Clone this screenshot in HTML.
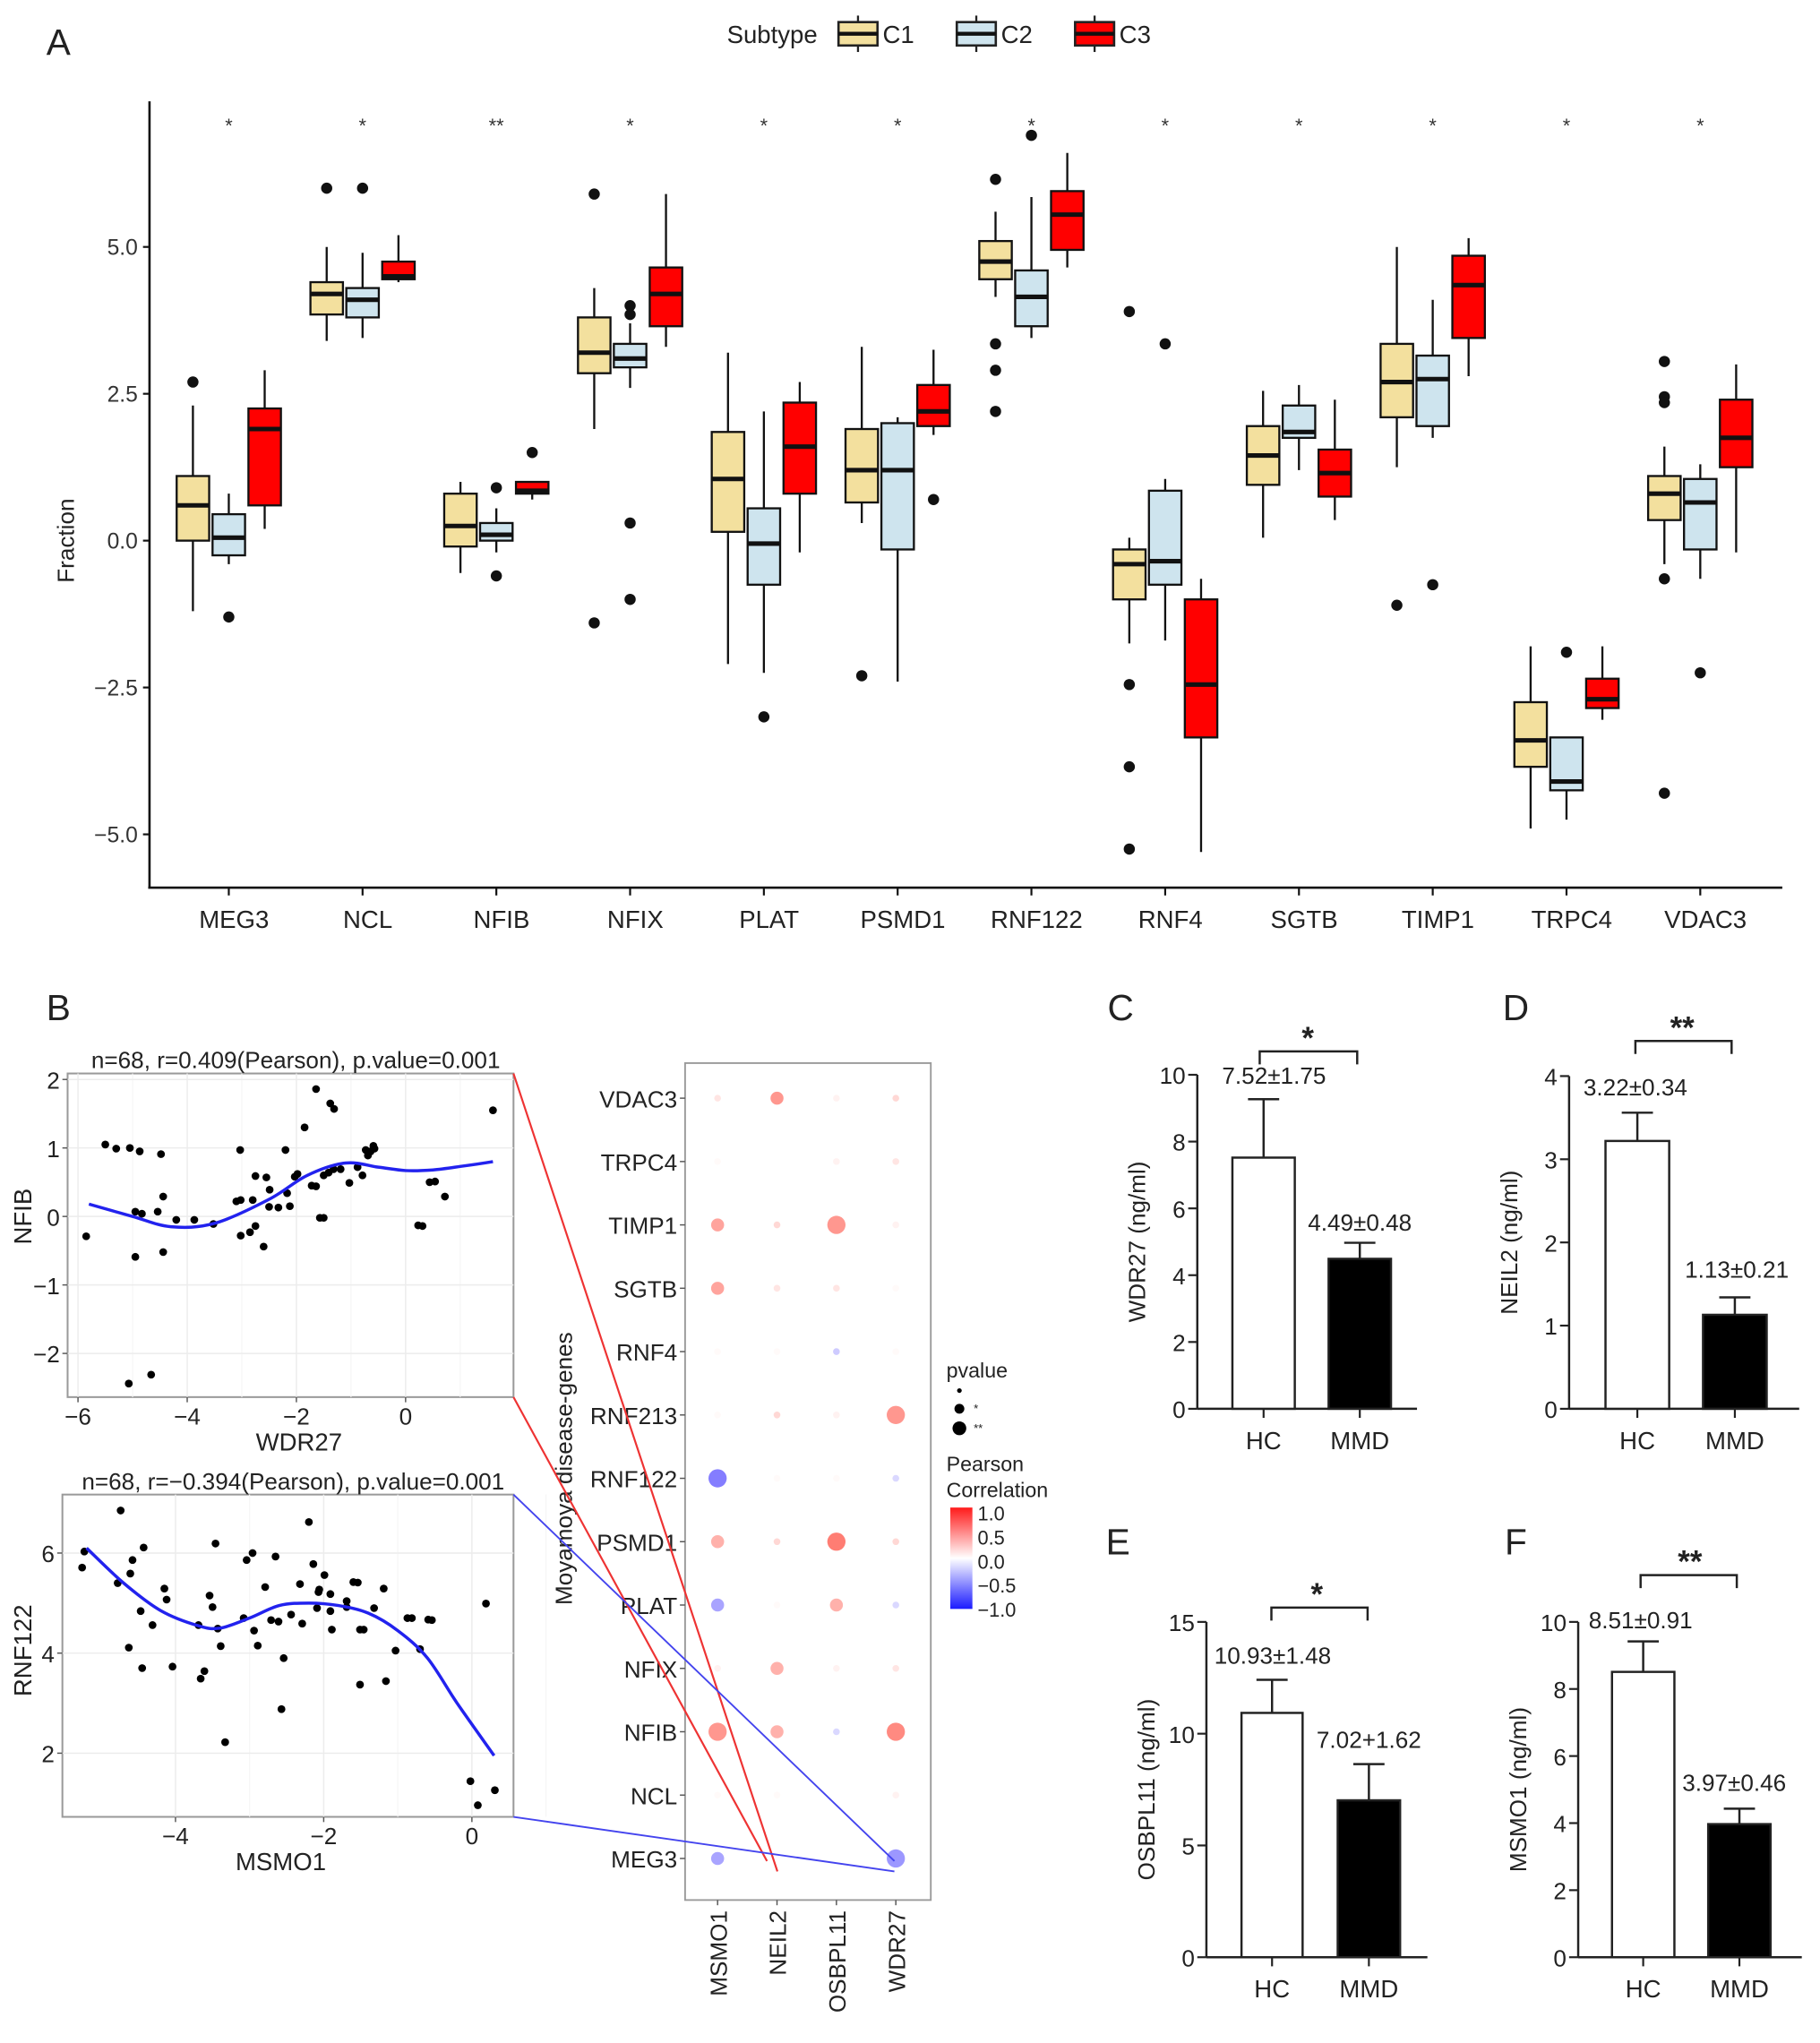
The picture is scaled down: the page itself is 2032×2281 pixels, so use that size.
<!DOCTYPE html>
<html><head><meta charset="utf-8"><style>
html,body{margin:0;padding:0;background:#fff;}
svg{display:block;font-family:"Liberation Sans",Arial,sans-serif;}
</style></head><body>
<svg id="fig" width="2032" height="2281" viewBox="0 0 1400 1572" preserveAspectRatio="none" xmlns="http://www.w3.org/2000/svg"></svg>
<script>
// ===== Panel A data =====
const genes = ["MEG3","NCL","NFIB","NFIX","PLAT","PSMD1","RNF122","RNF4","SGTB","TIMP1","TRPC4","VDAC3"];
const sigA = ["*","*","**","*","*","*","*","*","*","*","*","*"];
// [q1, median, q3, whiskerLow, whiskerHigh]
const boxC1 = [[0,0.6,1.1,-1.2,2.3],[3.85,4.2,4.4,3.4,5.0],[-0.1,0.25,0.8,-0.55,1.0],[2.85,3.2,3.8,1.9,4.3],[0.15,1.05,1.85,-2.1,3.2],[0.65,1.2,1.9,0.3,3.3],[4.45,4.75,5.1,4.15,5.6],[-1.0,-0.4,-0.15,-1.75,0.05],[0.95,1.45,1.95,0.05,2.55],[2.1,2.7,3.35,1.25,5.0],[-3.85,-3.4,-2.75,-4.9,-1.8],[0.35,0.8,1.1,-0.4,1.6]];
const boxC2 = [[-0.25,0.05,0.45,-0.4,0.8],[3.8,4.1,4.3,3.45,4.9],[0,0.1,0.3,-0.2,0.55],[2.95,3.1,3.35,2.6,3.7],[-0.75,-0.05,0.55,-2.25,2.2],[-0.15,1.2,2.0,-2.4,2.1],[3.65,4.15,4.6,3.45,5.85],[-0.75,-0.35,0.85,-1.7,1.05],[1.75,1.85,2.3,1.2,2.65],[1.95,2.75,3.15,1.75,4.1],[-4.25,-4.1,-3.35,-4.75,-3.35],[-0.15,0.65,1.05,-0.65,1.3]];
const boxC3 = [[0.6,1.9,2.25,0.2,2.9],[4.45,4.5,4.75,4.4,5.2],[0.8,0.85,1.0,0.7,1.0],[3.65,4.2,4.65,3.3,5.9],[0.8,1.6,2.35,-0.2,2.7],[1.95,2.2,2.65,1.8,3.25],[4.95,5.55,5.95,4.65,6.6],[-3.35,-2.45,-1.0,-5.3,-0.65],[0.75,1.15,1.55,0.35,2.4],[3.45,4.35,4.85,2.8,5.15],[-2.85,-2.7,-2.35,-3.05,-1.8],[1.25,1.75,2.4,-0.2,3.0]];
const outC1 = [[2.7],[6.0],[],[5.9,-1.4],[],[-2.3],[6.15,3.35,2.9,2.2],[3.9,-2.45,-3.85,-5.25],[],[-1.1],[],[3.05,2.45,2.35,-0.65,-4.3]];
const outC2 = [[-1.3],[6.0],[0.9,-0.6],[4.0,3.85,0.3,-1.0],[-3.0],[],[6.9],[3.35],[],[-0.75],[-1.9],[-2.25]];
const outC3 = [[],[],[1.5],[],[],[0.7],[],[],[],[],[],[]];
const yTicksA = [5.0,2.5,0.0,-2.5,-5.0];
const yTickLabelsA = ["5.0","2.5","0.0","\u22122.5","\u22125.0"];

// ===== Scatter 1 (WDR27 vs NFIB) =====
const s1x = [-5.85,-5.5,-5.3,-5.05,-4.87,-4.95,-4.83,-4.95,-5.07,-4.66,-4.48,-4.44,-4.54,-4.44,-4.2,-3.87,-3.52,-3.03,-3.1,-3.02,-3.02,-2.85,-2.75,-2.8,-2.75,-2.6,-2.55,-2.49,-2.5,-2.33,-2.2,-2.17,-2.12,-2.03,-1.98,-1.85,-1.72,-1.64,-1.64,-1.57,-1.5,-1.5,-1.38,-1.31,-1.32,-1.41,-1.19,-1.03,-0.88,-0.79,-0.73,-0.69,-0.64,-0.59,-0.57,0.23,0.31,0.44,0.54,0.72,1.6];
const s1y = [-0.29,1.05,0.99,1.0,0.95,0.07,0.04,-0.59,-2.44,-2.31,0.91,0.29,0.07,-0.52,-0.05,-0.05,-0.11,0.97,0.22,0.24,-0.28,-0.23,0.59,0.24,-0.14,-0.44,0.57,0.39,0.14,0.13,0.97,0.34,0.15,0.58,0.62,1.3,0.45,1.86,0.44,-0.02,-0.02,0.6,1.65,1.57,0.69,0.64,0.69,0.49,0.72,0.6,0.97,0.89,0.95,1.03,0.99,-0.13,-0.14,0.5,0.51,0.29,1.55];
const fit1x = [-5.8,-5,-4.3,-3.5,-2.5,-1.8,-1.1,-0.5,0,0.5,1,1.6];
const fit1y = [0.18,0,-0.15,-0.1,0.25,0.6,0.78,0.72,0.67,0.68,0.73,0.8];
const s1xTicks = [-6,-4,-2,0];
const s1yTicks = [2,1,0,-1,-2];

// ===== Scatter 2 (MSMO1 vs RNF122) =====
const s2x = [-5.26,-5.23,-4.74,-4.78,-4.61,-4.58,-4.47,-4.43,-4.63,-4.45,-4.31,-4.15,-4.12,-4.04,-3.69,-3.66,-3.61,-3.54,-3.5,-3.46,-3.43,-3.39,-3.33,-3.08,-3.04,-2.96,-2.94,-2.89,-2.79,-2.71,-2.65,-2.61,-2.54,-2.57,-2.44,-2.32,-2.29,-2.2,-2.14,-2.09,-2.07,-2.06,-1.99,-1.91,-1.91,-1.89,-1.69,-1.69,-1.6,-1.54,-1.51,-1.46,-1.51,-1.32,-1.19,-1.16,-1.03,-0.87,-0.81,-0.7,-0.59,-0.54,-0.02,0.08,0.19,0.31];
const s2y = [5.71,6.03,6.85,5.4,5.59,5.86,4.84,6.11,4.11,3.7,4.56,5.29,5.07,3.73,4.56,3.49,3.64,5.15,4.92,6.19,4.49,4.14,2.22,4.7,5.86,6.0,4.45,4.15,5.32,4.66,5.93,4.63,3.9,2.88,4.77,5.38,4.59,6.62,5.78,4.9,5.22,5.27,5.56,5.18,4.84,4.47,5.04,4.92,5.42,5.41,4.47,4.47,3.37,4.9,5.29,3.44,4.05,4.7,4.7,4.08,4.67,4.66,1.44,0.96,4.99,1.26];
const fit2x = [-5.2,-4.7,-4.2,-3.7,-3.4,-3.0,-2.6,-2.2,-1.8,-1.4,-1.0,-0.6,-0.2,0.3];
const fit2y = [6.1,5.4,4.85,4.55,4.5,4.7,4.95,5.0,4.95,4.8,4.45,3.9,3.0,1.95];
const s2xTicks = [-4,-2,0];
const s2yTicks = [6,4,2];

// ===== Correlation dot plot =====
const dotRows = ["VDAC3","TRPC4","TIMP1","SGTB","RNF4","RNF213","RNF122","PSMD1","PLAT","NFIX","NFIB","NCL","MEG3"];
const dotCols = ["MSMO1","NEIL2","OSBPL11","WDR27"];
const corr = [[0.1,0.4,0.05,0.15],[0.02,0,0.05,0.1],[0.35,0.15,0.4,0.05],[0.35,0.1,0.1,0.02],[0.02,0.02,-0.2,0.02],[0.02,0.15,0.05,0.4],[-0.5,0.02,0.02,-0.15],[0.3,0.15,0.5,0.15],[-0.35,0.02,0.3,-0.15],[0.05,0.3,0.05,0.1],[0.4,0.3,-0.15,0.45],[0.02,0.02,0,0.05],[-0.35,0,0,-0.4]];
const sigLevel = [[0,1,0,0],[0,0,0,0],[1,0,2,0],[1,0,0,0],[0,0,0,0],[0,0,0,2],[2,0,0,0],[1,0,2,0],[1,0,1,0],[0,1,0,0],[2,1,0,2],[0,0,0,0],[1,0,0,2]];

// ===== Bar panels =====
const barGroups = ["HC","MMD"];
const barC = [7.52,4.49], errC = [1.75,0.48];
const barD = [3.22,1.13], errD = [0.34,0.21];
const barE = [10.93,7.02], errE = [1.48,1.62];
const barF = [8.51,3.97], errF = [0.91,0.46];
const labC = ["7.52\u00b11.75","4.49\u00b10.48"];
const labD = ["3.22\u00b10.34","1.13\u00b10.21"];
const labE = ["10.93\u00b11.48","7.02+1.62"];
const labF = ["8.51\u00b10.91","3.97\u00b10.46"];

const NS="http://www.w3.org/2000/svg";
const svg=document.getElementById('fig');
function el(tag,attrs,parent,text){const e=document.createElementNS(NS,tag);for(const k in attrs)e.setAttribute(k,attrs[k]);if(text!==undefined)e.textContent=text;(parent||svg).appendChild(e);return e;}
function grp(name){const g=document.createElementNS(NS,'g');


svg.appendChild(g);return g;}
function txt(g,x,y,s,size,anchor,extra){const t=el('text',Object.assign({x:x,y:y,'font-size':size,'text-anchor':anchor||'middle',fill:'#222'},extra||{}),g,s);return t;}
function smoothPath(px,py){
 let d='M'+px[0].toFixed(1)+','+py[0].toFixed(1);
 for(let i=0;i<px.length-1;i++){
  const x0=px[Math.max(0,i-1)],y0=py[Math.max(0,i-1)],x1=px[i],y1=py[i],x2=px[i+1],y2=py[i+1],x3=px[Math.min(px.length-1,i+2)],y3=py[Math.min(px.length-1,i+2)];
  const c1x=x1+(x2-x0)/6,c1y=y1+(y2-y0)/6,c2x=x2-(x3-x1)/6,c2y=y2-(y3-y1)/6;
  d+='C'+c1x.toFixed(1)+','+c1y.toFixed(1)+' '+c2x.toFixed(1)+','+c2y.toFixed(1)+' '+x2.toFixed(1)+','+y2.toFixed(1);
 }
 return d;
}

// ===== Panel A =====
(function(){
 const g=grp('panel-a');
 const pl=txt(g,45,42,"A",28,'middle');
 
 
 const y0=416, sy=45.2, x0=176, step=102.9, off=27.6, bw=25;
 const Y=v=>y0-v*sy, X=i=>x0+i*step;
 const lg=grp('legend-subtype');
 txt(lg,594,33,"Subtype",19,'middle');
 const cols=["#F3E09E","#CEE4EE","#FF0000"], names=["C1","C2","C3"];
 [645,736,827].forEach((lx,i)=>{
  const e=el('g',{},lg);
  
  
  el('line',{x1:lx+15,y1:12,x2:lx+15,y2:40,stroke:'#222','stroke-width':1.6},e);
  el('rect',{x:lx,y:17,width:30,height:18,fill:cols[i],stroke:'#222','stroke-width':1.8},e);
  el('line',{x1:lx,y1:26,x2:lx+30,y2:26,stroke:'#111','stroke-width':3},e);
  txt(e,lx+45,33,names[i],19,'start',{transform:'translate(-10 0)'}).setAttribute('x',lx+44);
 });
 el('line',{x1:115,y1:78,x2:115,y2:683,stroke:'#111','stroke-width':1.8},g);
 el('line',{x1:114,y1:683,x2:1371,y2:683,stroke:'#111','stroke-width':1.8},g);
 yTicksA.forEach((v,i)=>{el('line',{x1:110,y1:Y(v),x2:115,y2:Y(v),stroke:'#111','stroke-width':1.5},g);
  txt(g,106,Y(v)+6,yTickLabelsA[i],17,'end',{fill:'#333'});});
 const yt=txt(g,57,416,"Fraction",18,'middle',{transform:'rotate(-90 57 416)'});
 
 
 const all=[boxC1,boxC2,boxC3], outs=[outC1,outC2,outC3];
 genes.forEach((gname,i)=>{
  const cx=X(i);
  el('line',{x1:cx,y1:683,x2:cx,y2:689,stroke:'#111','stroke-width':1.5},g);
  txt(g,cx+4,714,gname,19,'middle',{fill:'#222'});
  txt(g,cx,102,sigA[i],15,'middle',{fill:'#333'});
  for(let s=0;s<3;s++){
   const b=all[s][i], bx=cx+(s-1)*off;
   const bg=el('g',{},g);
   
   
   el('line',{x1:bx,y1:Y(b[4]),x2:bx,y2:Y(b[3]),stroke:'#111','stroke-width':1.6},bg);
   el('rect',{x:bx-bw/2,y:Y(b[2]),width:bw,height:Y(b[0])-Y(b[2]),fill:cols[s],stroke:'#111','stroke-width':1.6},bg);
   el('line',{x1:bx-bw/2,y1:Y(b[1]),x2:bx+bw/2,y2:Y(b[1]),stroke:'#111','stroke-width':3.5},bg);
   outs[s][i].forEach(v=>{const c=el('circle',{cx:bx,cy:Y(v),r:4.3,fill:'#111'},bg);
    
    });
  }
 });
})();

// ===== Panel B =====
(function(){
 const g=grp('panel-b');
 txt(g,45,785,"B",28,'middle');
 function scatter(name,rect,xs,ys,fx,fy,xt,yt,xsc,ysc,title,xl,yl,xlabX,ylabY){
  const sg=grp(name);
  const X=v=>xsc.o+v*xsc.k, Y=v=>ysc.o-v*ysc.k;
  el('rect',{x:rect[0],y:rect[1],width:rect[2]-rect[0],height:rect[3]-rect[1],fill:'#fff',stroke:'#9a9a9a','stroke-width':1.4},sg);
  xt.forEach(v=>{el('line',{x1:X(v),y1:rect[1],x2:X(v),y2:rect[3],stroke:'#ececec','stroke-width':1},sg);
    el('line',{x1:X(v+1),y1:rect[1],x2:X(v+1),y2:rect[3],stroke:'#f5f5f5','stroke-width':0.8},sg);
    el('line',{x1:X(v),y1:rect[3],x2:X(v),y2:rect[3]+4,stroke:'#555','stroke-width':1},sg);
    txt(sg,X(v),rect[3]+21,(v<0?"\u2212"+(-v):""+v),18,'middle');});
  yt.forEach(v=>{el('line',{x1:rect[0],y1:Y(v),x2:rect[2],y2:Y(v),stroke:'#ececec','stroke-width':1},sg);
    el('line',{x1:rect[0]-4,y1:Y(v),x2:rect[0],y2:Y(v),stroke:'#555','stroke-width':1},sg);
    txt(sg,rect[0]-6,Y(v)+7,(v<0?"\u2212"+(-v):""+v),18,'end');});
  txt(sg,(rect[0]+rect[2])/2+4,rect[1]-4,title,18,'middle');
  txt(sg,xlabX,rect[3]+41,xl,19,'middle');
  txt(sg,24,ylabY,yl,19,'middle',{transform:'rotate(-90 24 '+ylabY+')'});
  xs.forEach((v,i)=>{const c=el('circle',{cx:X(v),cy:Y(ys[i]),r:3,fill:'#000'},sg);
   
   });
  const p=el('path',{d:smoothPath(fx.map(X),fy.map(Y)),fill:'none',stroke:'#2222ee','stroke-width':2.4,'stroke-linejoin':'round'},sg);
  
  
 }
 scatter('scatter-wdr27-nfib',[52,826,395,1075],s1x,s1y,fit1x,fit1y,s1xTicks,s1yTicks,{o:312,k:42},{o:936,k:52.7},
  "n=68, r=0.409(Pearson), p.value=0.001","WDR27","NFIB",230,936);
 scatter('scatter-msmo1-rnf122',[48,1150,395,1398],s2x,s2y,fit2x,fit2y,s2xTicks,s2yTicks,{o:363,k:57},{o:1426,k:38.5},
  "n=68, r=\u22120.394(Pearson), p.value=0.001","MSMO1","RNF122",216,1270);

 const dg=grp('correlation-dot-plot');
 el('rect',{x:527,y:818,width:189,height:644,fill:'#fff',stroke:'#9a9a9a','stroke-width':1.3},dg);
 const colX=c=>552+c*45.7, rowY=r=>845+r*48.75;
 function color(v){const t=Math.min(1,Math.abs(v));
  if(v>=0){return 'rgb(255,'+Math.round(255-t*200)+','+Math.round(255-t*215)+')';}
  return 'rgb('+Math.round(255-t*190)+','+Math.round(255-t*200)+',255)';}
 const rad=[2.6,5,7];
 dotRows.forEach((rn,r)=>{
  el('line',{x1:523,y1:rowY(r),x2:527,y2:rowY(r),stroke:'#555','stroke-width':1},dg);
  txt(dg,521,rowY(r)+7,rn,18,'end');
  dotCols.forEach((cn,c)=>{
   const v=corr[r][c];
   const cc=el('circle',{cx:colX(c),cy:rowY(r),r:rad[sigLevel[r][c]],fill:color(v*1.3)},dg);
   
   
  });
 });
 dotCols.forEach((cn,c)=>{
  el('line',{x1:colX(c),y1:1462,x2:colX(c),y2:1466,stroke:'#555','stroke-width':1},dg);
  txt(dg,colX(c)+7,1470,cn,18,'end',{transform:'rotate(-90 '+(colX(c)+7)+' 1470)'});
 });
 txt(dg,440,1130,"Moyamoya disease-genes",18,'middle',{transform:'rotate(-90 440 1130)'});
 const lg=grp('legend-dotplot');
 txt(lg,728,1060,"pvalue",16,'start');
 el('circle',{cx:738,cy:1070,r:1.8,fill:'#000'},lg);
 el('circle',{cx:738,cy:1084,r:3.8,fill:'#000'},lg); txt(lg,749,1087,"*",9,'start');
 el('circle',{cx:738,cy:1099,r:5.3,fill:'#000'},lg); txt(lg,749,1102,"**",9,'start');
 txt(lg,728,1132,"Pearson",16,'start');
 txt(lg,728,1152,"Correlation",16,'start');
 const defs=el('defs',{},svg);
 const lgd=el('linearGradient',{id:'cg',x1:0,y1:0,x2:0,y2:1},defs);
 el('stop',{offset:'0','stop-color':'#ff1a1a'},lgd);
 el('stop',{offset:'0.5','stop-color':'#ffffff'},lgd);
 el('stop',{offset:'1','stop-color':'#1a1aff'},lgd);
 el('rect',{x:731,y:1160,width:17,height:78,fill:'url(#cg)'},lg);
 ["1.0","0.5","0.0","\u22120.5","\u22121.0"].forEach((s,i)=>txt(lg,752,1170+i*18.5,s,15,'start'));
 const cg=grp('connector-lines');
 el('line',{x1:395,y1:826,x2:598,y2:1440,stroke:'#ee3333','stroke-width':1.5},cg);
 el('line',{x1:395,y1:1075,x2:590,y2:1432,stroke:'#ee3333','stroke-width':1.5},cg);
 el('line',{x1:395,y1:1150,x2:688,y2:1432,stroke:'#4444ee','stroke-width':1.3},cg);
 el('line',{x1:395,y1:1398,x2:688,y2:1440,stroke:'#4444ee','stroke-width':1.3},cg);
})();

// ===== Bar panels =====
function barPanel(name,letter,lx,ly,ax,base,axEnd,k,ticks,vals,errs,labs,labPos,bars,brk,star,starX,ylab){
 const g=grp(name);
 const Y=v=>base-v*k;
 txt(g,lx,ly,letter,28,'middle');
 el('line',{x1:ax,y1:Y(ticks[ticks.length-1]),x2:ax,y2:base,stroke:'#222','stroke-width':1.7},g);
 el('line',{x1:ax,y1:base,x2:axEnd,y2:base,stroke:'#222','stroke-width':1.7},g);
 ticks.forEach(v=>{el('line',{x1:ax-7,y1:Y(v),x2:ax,y2:Y(v),stroke:'#222','stroke-width':1.5},g);
  txt(g,ax-9,Y(v)+7,""+v,18,'end');});
 bars.forEach((b,i)=>{
  const cx=(b[0]+b[1])/2;
  const r=el('rect',{x:b[0],y:Y(vals[i]),width:b[1]-b[0],height:base-Y(vals[i]),fill:i?'#000':'#fff',stroke:'#222','stroke-width':1.7},g);
  
  
  el('line',{x1:cx,y1:Y(vals[i]),x2:cx,y2:Y(vals[i]+errs[i]),stroke:'#222','stroke-width':1.7},g);
  el('line',{x1:cx-12,y1:Y(vals[i]+errs[i]),x2:cx+12,y2:Y(vals[i]+errs[i]),stroke:'#222','stroke-width':1.7},g);
  el('line',{x1:cx,y1:base,x2:cx,y2:base+7,stroke:'#222','stroke-width':1.5},g);
  txt(g,cx,base+31,barGroups[i],19,'middle');
  txt(g,labPos[i][0],labPos[i][1],labs[i],18,'middle');
 });
 el('path',{d:'M'+brk[0]+','+(brk[2]+10)+'V'+brk[2]+'H'+brk[1]+'V'+(brk[2]+10),fill:'none',stroke:'#222','stroke-width':1.7},g);
 txt(g,starX,brk[2]-2,star,24,'middle',{'font-weight':'bold'});
 const yc=(Y(ticks[ticks.length-1])+base)/2;
 txt(g,ax-40,yc,ylab,18,'middle',{transform:'rotate(-90 '+(ax-40)+' '+yc+')'});
}
barPanel('panel-c-wdr27','C',862,785,921,1084,1090,25.7,[0,2,4,6,8,10],barC,errC,labC,[[980,834],[1046,947]],[[948,996],[1022,1070]],[969,1044,809],"*",1006,"WDR27 (ng/ml)");
barPanel('panel-d-neil2','D',1166,785,1207,1084,1384,64,[0,1,2,3,4],barD,errD,labD,[[1258,843],[1336,983]],[[1235,1284],[1310,1359]],[1258,1332,801],"**",1294,"NEIL2 (ng/ml)");
barPanel('panel-e-osbpl11','E',860,1196,928,1506,1098,17.2,[0,5,10,15],barE,errE,labE,[[979,1280],[1053,1345]],[[955,1002],[1029,1077]],[978,1052,1237],"*",1013,"OSBPL11 (ng/ml)");
barPanel('panel-f-msmo1','F',1166,1196,1214,1506,1386,25.8,[0,2,4,6,8,10],barF,errF,labF,[[1262,1253],[1334,1378]],[[1240,1288],[1314,1362]],[1262,1336,1212],"**",1300,"MSMO1 (ng/ml)");
</script>
</body></html>
